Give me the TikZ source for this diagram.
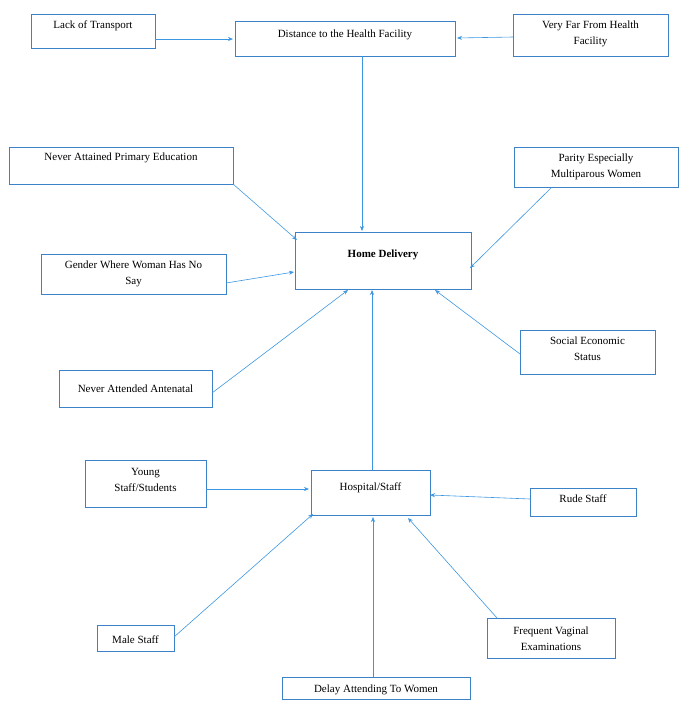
\documentclass[tikz,border=0pt]{standalone}
\usepackage{fontspec}
\setmainfont{Liberation Serif}
\usetikzlibrary{arrows.meta}
\definecolor{ar}{RGB}{60,150,225}
\definecolor{bx}{RGB}{60,130,200}
\begin{document}
\begin{tikzpicture}[x=1pt,y=-1pt,
  box/.style={draw=bx,line width=0.6pt},
  lbl/.style={anchor=north,align=center,font=\fontsize{11}{16}\selectfont,inner sep=0pt},
  arr/.style={draw=ar,line width=0.6pt,-{Stealth[length=5pt,width=4pt]}}]
\useasboundingbox (0,0) rectangle (689,710);
\newcommand{\bx}[7]{\draw[box] (#2,#3) rectangle (#4,#5); \node[lbl] (#1) at ({(#2+#4)/2},#3+#6+4) {#7};}
\bx{lack}{31}{14}{155}{48}{3}{Lack of Transport}
\bx{dist}{235}{21}{455}{56}{5}{Distance to the Health Facility}
\bx{far}{513}{14}{668}{56}{3}{Very Far From Health\\Facility}
\bx{edu}{9}{147}{233}{184}{2}{Never Attained Primary Education}
\bx{par}{514}{147}{678}{187}{3}{Parity Especially\\Multiparous Women}
\bx{home}{295}{232}{471}{289}{14}{\textbf{Home Delivery}}
\bx{gen}{41}{254}{226}{294}{3}{Gender Where Woman Has No\\Say}
\bx{soc}{520}{330}{655}{374}{3}{Social Economic\\Status}
\bx{ant}{59}{370}{212}{407}{11}{Never Attended Antenatal}
\bx{young}{85}{460}{206}{507}{4}{Young\\Staff/Students}
\bx{hosp}{311}{470}{430}{515}{9}{Hospital/Staff}
\bx{rude}{530}{488}{636}{516}{3}{Rude Staff}
\bx{male}{97}{625}{174}{651}{7}{Male Staff}
\bx{freq}{487}{618}{615}{658}{5}{Frequent Vaginal\\Examinations}
\bx{delay}{282}{677}{470}{699}{4}{Delay Attending To Women}
\coordinate (a1) at (155,39); \coordinate (b1) at (233,39);
\coordinate (a2) at (513,37); \coordinate (b2) at (457,38);
\coordinate (a3) at (362,56); \coordinate (b3) at (362,231);
\coordinate (a4) at (233,184); \coordinate (b4) at (297,240);
\coordinate (a5) at (552,187); \coordinate (b5) at (470,268);
\coordinate (a6) at (226,283); \coordinate (b6) at (294,272);
\coordinate (a7) at (520,354); \coordinate (b7) at (435,290);
\coordinate (a8) at (212,393); \coordinate (b8) at (348,290);
\coordinate (a9) at (372,470); \coordinate (b9) at (372,290);
\coordinate (a10) at (206,489); \coordinate (b10) at (309,489);
\coordinate (a11) at (530,499); \coordinate (b11) at (430,495);
\coordinate (a12) at (174,637); \coordinate (b12) at (313,514);
\coordinate (a13) at (497,618); \coordinate (b13) at (408,518);
\coordinate (a14) at (373,677); \coordinate (b14) at (373,517);
\foreach \i in {1,...,14} \draw[arr] (a\i) -- (b\i);
\end{tikzpicture}
\end{document}
